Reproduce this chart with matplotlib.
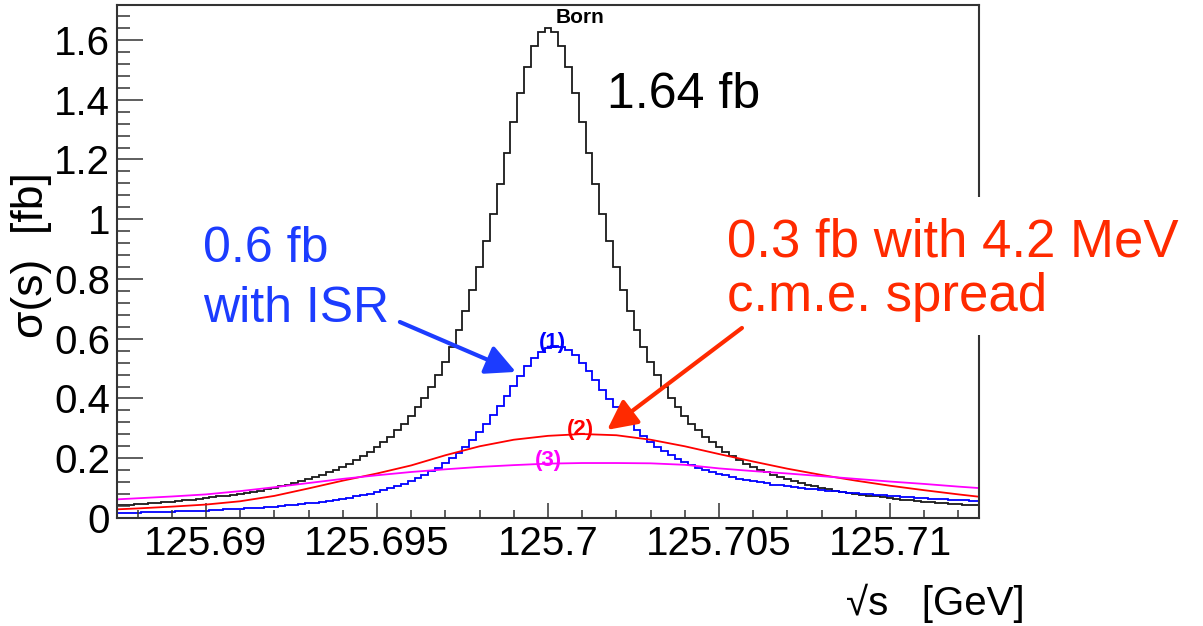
import numpy as np
import matplotlib
matplotlib.use("Agg")
import matplotlib.pyplot as plt
from matplotlib.patches import Rectangle
from matplotlib.ticker import MultipleLocator, FuncFormatter

plt.rcParams["font.family"] = ["Liberation Sans", "DejaVu Sans"]

# histogram binning (GeV)
BIN_LO = 125.6873
BIN_W = 0.0002

# Born cross section per bin [fb]
BORN = [
    0.042, 0.044, 0.045, 0.047, 0.048, 0.050, 0.051, 0.053, 0.055, 0.057,
    0.059, 0.061, 0.064, 0.066, 0.069, 0.072, 0.074, 0.078, 0.081, 0.084,
    0.088, 0.092, 0.097, 0.101, 0.106, 0.111, 0.117, 0.123, 0.130, 0.137,
    0.144, 0.153, 0.162, 0.171, 0.182, 0.194, 0.207, 0.221, 0.236, 0.253,
    0.272, 0.293, 0.316, 0.341, 0.370, 0.402, 0.437, 0.477, 0.522, 0.572,
    0.629, 0.692, 0.762, 0.840, 0.926, 1.019, 1.118, 1.221, 1.325, 1.423,
    1.511, 1.580, 1.625,
    1.640,
    1.625, 1.580, 1.511,
    1.423, 1.325, 1.221, 1.118, 1.019, 0.926, 0.840, 0.762, 0.692, 0.629,
    0.572, 0.522, 0.477, 0.437, 0.402, 0.370, 0.341, 0.316, 0.293, 0.272,
    0.253, 0.236, 0.221, 0.207, 0.194, 0.182, 0.171, 0.162, 0.153, 0.144,
    0.137, 0.130, 0.123, 0.117, 0.111, 0.106, 0.101, 0.097, 0.092, 0.088,
    0.084, 0.081, 0.078, 0.074, 0.072, 0.069, 0.066, 0.064, 0.061, 0.059,
    0.057, 0.055, 0.053, 0.051, 0.050, 0.048, 0.047, 0.045, 0.044, 0.042,
]

# (1) with ISR, same binning [fb]
ISR = [
    0.016, 0.017, 0.017, 0.018, 0.019, 0.019, 0.020, 0.021, 0.021, 0.022,
    0.023, 0.024, 0.025, 0.025, 0.026, 0.027, 0.029, 0.030, 0.031, 0.032,
    0.034, 0.035, 0.037, 0.038, 0.040, 0.042, 0.044, 0.046, 0.049, 0.051,
    0.054, 0.057, 0.060, 0.064, 0.068, 0.072, 0.076, 0.081, 0.087, 0.093,
    0.099, 0.107, 0.114, 0.123, 0.133, 0.144, 0.156, 0.169, 0.184, 0.200,
    0.219, 0.239, 0.262, 0.287, 0.314, 0.344, 0.375, 0.409, 0.443, 0.476,
    0.508, 0.535, 0.557, 0.570,
    0.575,
    0.573, 0.563, 0.544, 0.520, 0.491, 0.461, 0.430, 0.399, 0.371, 0.343,
    0.318, 0.295, 0.274, 0.256, 0.239, 0.224, 0.211, 0.199, 0.188, 0.178,
    0.169, 0.161, 0.155, 0.148, 0.143, 0.137, 0.132, 0.127, 0.124, 0.120,
    0.116, 0.112, 0.109, 0.106, 0.103, 0.101, 0.098, 0.096, 0.093, 0.091,
    0.089, 0.087, 0.085, 0.083, 0.081, 0.079, 0.078, 0.076, 0.074, 0.072,
    0.071, 0.069, 0.068, 0.066, 0.065, 0.064, 0.062, 0.061, 0.060, 0.059,
    0.058, 0.056,
]

# smooth curves sampled every 1 MeV
SMOOTH_X = [
    125.687, 125.688, 125.689, 125.690, 125.691, 125.692, 125.693, 125.694,
    125.695, 125.696, 125.697, 125.698, 125.699, 125.700, 125.701, 125.702,
    125.703, 125.704, 125.705, 125.706, 125.707, 125.708, 125.709, 125.710,
    125.711, 125.712, 125.713,
]
# (2) ISR + 4.2 MeV c.m.e. spread
SPREAD2 = [
    0.027, 0.032, 0.038, 0.045, 0.056, 0.074, 0.099, 0.125, 0.149, 0.176,
    0.210, 0.240, 0.262, 0.275, 0.281, 0.277, 0.262, 0.240, 0.214, 0.189,
    0.165, 0.144, 0.125, 0.108, 0.093, 0.079, 0.066,
]
# (3)
SPREAD3 = [
    0.060, 0.066, 0.072, 0.079, 0.090, 0.103, 0.117, 0.131, 0.143, 0.154,
    0.163, 0.171, 0.177, 0.182, 0.184, 0.184, 0.183, 0.178, 0.166, 0.157,
    0.149, 0.140, 0.131, 0.122, 0.114, 0.105, 0.097,
]

X_TICK_STEP = 0.005
Y_TICK_STEP = 0.2

BLUE = "#1c3cff"
RED = "#ff2a00"


def fmt(v, pos):
    return f"{v:g}"


def main():
    W, H = 1203, 626
    fig = plt.figure(figsize=(W / 100, H / 100), dpi=100)
    ax = fig.add_axes([117 / W, 108 / H, 862 / W, 513 / H])

    born_edges = BIN_LO + BIN_W * np.arange(len(BORN) + 1)
    isr_edges = BIN_LO + BIN_W * np.arange(len(ISR) + 1)
    ax.stairs(BORN, born_edges, baseline=None, color="#1a1a1a", lw=1.3)
    ax.stairs(ISR, isr_edges, baseline=None, color="#0000ff", lw=1.3)
    ax.plot(SMOOTH_X, SPREAD2, color="#ff0000", lw=1.3)
    ax.plot(SMOOTH_X, SPREAD3, color="#ff00ff", lw=1.3)

    ax.set_xlim(125.6874, 125.7126)
    ax.set_ylim(0, 1.717)

    ax.xaxis.set_major_locator(MultipleLocator(X_TICK_STEP))
    ax.xaxis.set_minor_locator(MultipleLocator(X_TICK_STEP / 5))
    ax.yaxis.set_major_locator(MultipleLocator(Y_TICK_STEP))
    ax.yaxis.set_minor_locator(MultipleLocator(Y_TICK_STEP / 5))
    ax.xaxis.set_major_formatter(FuncFormatter(fmt))
    ax.yaxis.set_major_formatter(FuncFormatter(fmt))

    ax.tick_params(axis="both", which="both", direction="in",
                   top=False, right=False, width=1.1, color="#333333",
                   labelsize=29)
    ax.tick_params(axis="x", which="major", length=11, pad=5)
    ax.tick_params(axis="x", which="minor", length=5.5)
    ax.tick_params(axis="y", which="major", length=19, pad=5)
    ax.tick_params(axis="y", which="minor", length=9.5)
    for sp in ax.spines.values():
        sp.set_linewidth(1.5)
        sp.set_color("#333333")

    # axis titles (ROOT style)
    fig.text(31 / W, 1 - 255 / H, "σ(s)  [fb]", rotation=90,
             ha="center", va="center", fontsize=32)
    fig.text(1025 / W, 1 - 615 / H, "√s   [GeV]", ha="right",
             va="baseline", fontsize=29)

    # curve labels
    ax.text(125.70094, 1.674, "Born", ha="center", va="center",
            fontsize=15, fontweight="bold", color="black")
    ax.text(125.70012, 0.589, "(1)", ha="center", va="center",
            fontsize=16, fontweight="bold", color="#0000ff")
    ax.text(125.70094, 0.295, "(2)", ha="center", va="center",
            fontsize=16, fontweight="bold", color="#ff0000")
    ax.text(125.7, 0.194, "(3)", ha="center", va="center",
            fontsize=16, fontweight="bold", color="#ff00ff")

    # slide annotations
    fig.text(607 / W, 1 - 108 / H, "1.64 fb", ha="left", va="baseline",
             fontsize=36, color="black")
    fig.text(203 / W, 1 - 262 / H, "0.6 fb", ha="left", va="baseline",
             fontsize=36, color=BLUE)
    fig.text(203 / W, 1 - 322 / H, "with ISR", ha="left", va="baseline",
             fontsize=36, color=BLUE)

    # white patch behind the red text hides the right frame
    fig.patches.append(Rectangle((968 / W, 1 - 335 / H), 24 / W, 138 / H,
                                 transform=fig.transFigure, facecolor="white",
                                 edgecolor="none", zorder=2))
    fig.text(727 / W, 1 - 257 / H, "0.3 fb with 4.2 MeV", ha="left",
             va="baseline", fontsize=38, color=RED, zorder=3)
    fig.text(727 / W, 1 - 311 / H, "c.m.e. spread", ha="left",
             va="baseline", fontsize=38, color=RED, zorder=3)

    ax.annotate("", xy=(125.69906, 0.489), xytext=(125.69567, 0.656),
                arrowprops=dict(arrowstyle="-|>,head_length=0.9,head_width=0.45",
                                lw=3, color=BLUE, shrinkA=0, shrinkB=0,
                                mutation_scale=20))
    ax.annotate("", xy=(125.70173, 0.295), xytext=(125.70567, 0.636),
                arrowprops=dict(arrowstyle="-|>,head_length=0.9,head_width=0.45",
                                lw=3, color=RED, shrinkA=0, shrinkB=0,
                                mutation_scale=20))

    fig.savefig("out.png", dpi=100)
    plt.close(fig)


if __name__ == "__main__":
    main()
